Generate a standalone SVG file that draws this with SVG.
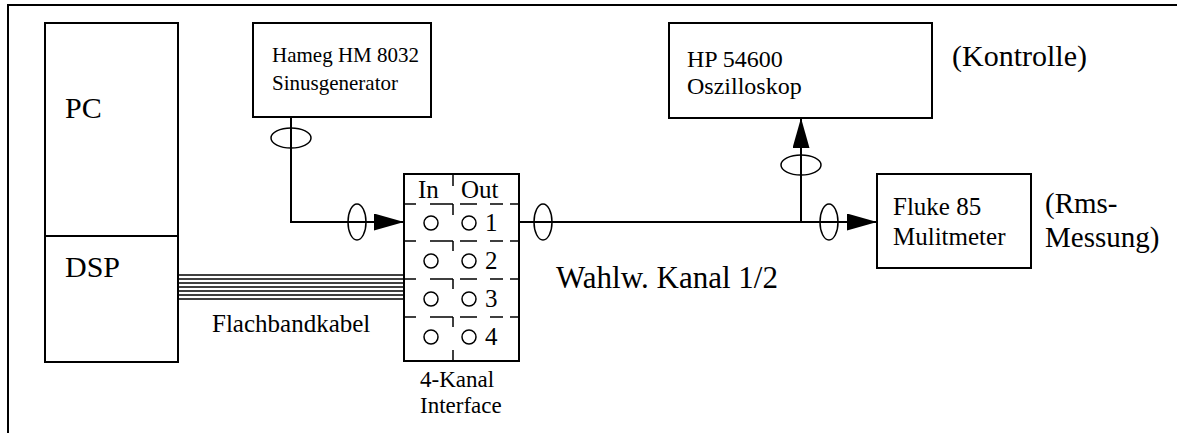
<svg xmlns="http://www.w3.org/2000/svg" width="1177" height="433" viewBox="0 0 1177 433" font-family="'Liberation Serif', 'Times New Roman', 'DejaVu Serif', serif">
<style>
.box{fill:#fff;stroke:#000;stroke-width:2}
.ln{fill:none;stroke:#000;stroke-width:2}
.thin{fill:none;stroke:#000;stroke-width:1.5}
.el{fill:none;stroke:#000;stroke-width:1.5}
text{fill:#000}
.big{font-size:30px}
.big2{font-size:31px}
.rms{font-size:29px}
.box1{font-size:21px}
.box2{font-size:24px}
.box3{font-size:25px}
.lab{font-size:25px}
.cell{font-size:25px}
.sub{font-size:23px}
</style>
<defs>
<marker id="arr" markerWidth="30" markerHeight="17" refX="30" refY="8.5" orient="auto" markerUnits="userSpaceOnUse">
<path d="M0,0 L30,8.5 L0,17 Z" fill="#000"/>
</marker>
</defs>
<rect width="1177" height="433" fill="#fff"/>
<g id="frame">
<path class="ln" d="M8,433 V5 H1177"/>
</g>
<g id="pc">
<rect class="box" x="45" y="23" width="133" height="339"/>
<line class="ln" x1="45" y1="236" x2="178" y2="236"/>
<text class="big" x="65" y="118">PC</text>
<text class="big" x="65" y="277">DSP</text>
</g>
<g id="hameg">
<rect class="box" x="253" y="23" width="178" height="94"/>
<text class="box1" x="272" y="62">Hameg HM 8032</text>
<text class="box1" x="272" y="90">Sinusgenerator</text>
</g>
<g id="hp">
<rect class="box" x="669" y="23" width="263" height="95"/>
<text class="box2" x="687" y="67">HP 54600</text>
<text class="box2" x="687" y="94">Oszilloskop</text>
</g>
<text id="kontrolle" class="big" x="952" y="66">(Kontrolle)</text>
<g id="fluke">
<rect class="box" x="877" y="174" width="154" height="94"/>
<text class="box3" x="893" y="215">Fluke 85</text>
<text class="box3" x="893" y="245">Mulitmeter</text>
</g>
<g id="rms">
<text class="rms" x="1045" y="213">(Rms-</text>
<text class="rms" x="1045" y="247">Messung)</text>
</g>
<g id="interface">
<rect class="box" x="404" y="174" width="115" height="187"/>
<g class="thin">
<path d="M453,174 V186 M453,204 V215 M453,241 V251 M453,279 V289 M453,317 V327 M453,350 V361"/>
<path d="M404,204 H416 M430,204 H453 M460,204 H477 M490,204 H503 M510,204 H519"/>
<path d="M404,241 H416 M430,241 H453 M460,241 H477 M490,241 H503 M510,241 H519"/>
<path d="M404,279 H416 M430,279 H453 M460,279 H477 M490,279 H503 M510,279 H519"/>
<path d="M404,317 H416 M430,317 H453 M460,317 H477 M490,317 H503 M510,317 H519"/>
</g>
<g class="el">
<circle cx="431" cy="223" r="7"/><circle cx="469" cy="223" r="7"/>
<circle cx="431" cy="261" r="7"/><circle cx="469" cy="261" r="7"/>
<circle cx="431" cy="299" r="7"/><circle cx="469" cy="299" r="7"/>
<circle cx="431" cy="337" r="7"/><circle cx="469" cy="337" r="7"/>
</g>
<text class="cell" x="418" y="198">In</text>
<text class="cell" x="461" y="198">Out</text>
<text class="cell" x="485" y="231">1</text>
<text class="cell" x="485" y="269">2</text>
<text class="cell" x="485" y="307">3</text>
<text class="cell" x="485" y="345">4</text>
<text class="sub" x="420" y="387">4-Kanal</text>
<text class="sub" x="420" y="413">Interface</text>
</g>
<g id="labels">
<text class="lab" x="212" y="332">Flachbandkabel</text>
<text class="big2" x="556" y="288">Wahlw. Kanal 1/2</text>
</g>
<g id="connectors">
<path class="ln" d="M291,117 V222 H404" marker-end="url(#arr)"/>
<path class="ln" d="M519,222 H877" marker-end="url(#arr)"/>
<path class="ln" d="M801,222 V118" marker-end="url(#arr)"/>
<g stroke="#000" stroke-width="1.5">
<line x1="178" y1="275" x2="404" y2="275"/>
<line x1="178" y1="279" x2="404" y2="279"/>
<line x1="178" y1="283" x2="404" y2="283"/>
<line x1="178" y1="287" x2="404" y2="287"/>
<line x1="178" y1="291" x2="404" y2="291"/>
<line x1="178" y1="295" x2="404" y2="295"/>
<line x1="178" y1="299" x2="404" y2="299"/>
</g>
<g class="el">
<ellipse cx="291" cy="138" rx="20" ry="10"/>
<ellipse cx="357" cy="222" rx="9" ry="18"/>
<ellipse cx="543" cy="222" rx="9" ry="18"/>
<ellipse cx="829" cy="222" rx="9" ry="18"/>
<ellipse cx="801" cy="165" rx="20" ry="10"/>
</g>
</g>
</svg>
